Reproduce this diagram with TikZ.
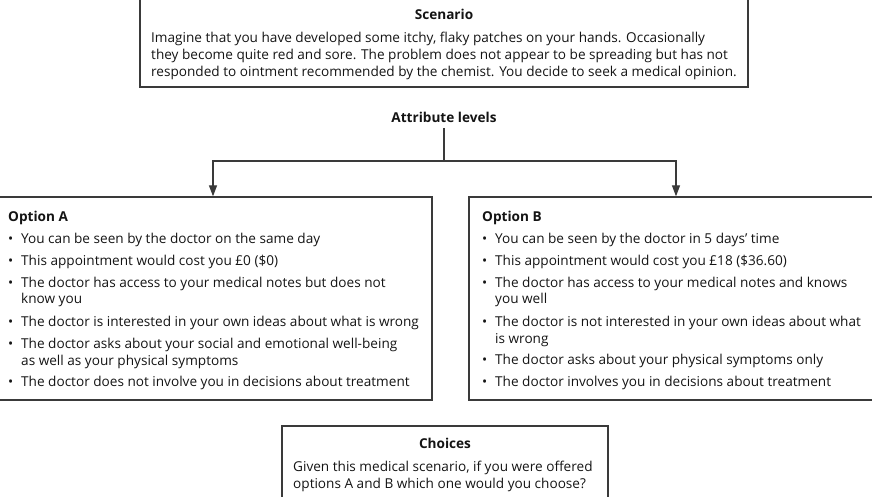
\documentclass[tikz,border=0pt]{standalone}
\usepackage{fontspec}
\setmainfont{Open Sans}
\usetikzlibrary{arrows.meta}
\definecolor{linecol}{HTML}{3A3A3A}
\definecolor{txt}{HTML}{141414}
\newcommand\fsz{\fontsize{13.6}{16}\selectfont}
\begin{document}
\begin{tikzpicture}[x=1pt,y=-1pt,
  box/.style={draw=linecol, line width=1.3pt, rectangle, inner sep=0pt},
  ttl/.style={font=\bfseries\fsz, text=txt, inner sep=0pt, anchor=base},
  ttlw/.style={font=\bfseries\fsz, text=txt, inner sep=0pt, anchor=base west},
  body/.style={font=\fsz, text=txt, inner sep=0pt, anchor=base west},
  conn/.style={draw=linecol, line width=1.2pt},
  arr/.style={conn, -{Triangle[length=11pt,width=8pt]}}]
\useasboundingbox (0,0) rectangle (872,497);
\clip (0,0) rectangle (872,497);
% boxes
\node[box, minimum width=608pt, minimum height=107pt] (scen) at (444,33.5) {};
\node[box, minimum width=438pt, minimum height=203pt] (optA) at (213,298.5) {};
\node[box, minimum width=414pt, minimum height=203pt] (optB) at (676,298.5) {};
\node[box, minimum width=326pt, minimum height=94pt] (choice) at (445,473) {};
% scenario
\node[ttl] (scenT) at (444,20) {Scenario};
\node[body] (s1) at (151,42.5) {Imagine that you have developed some itchy, flaky patches on your hands. Occasionally};
\node[body] (s2) at (151,59.5) {they become quite red and sore. The problem does not appear to be spreading but has not};
\node[body] (s3) at (151,76.5) {responded to ointment recommended by the chemist. You decide to seek a medical opinion.};
% attribute levels
\node[ttl] (attr) at (444,122.5) {Attribute levels};
\coordinate (split) at (444,161);
\draw[conn] ([yshift=-5pt]attr.south) -- (split);
\draw[arr] (split) -| (optA.north);
\draw[arr] (split) -| (optB.north);
% option A
\node[ttlw] (aT) at (8,221) {Option A};
\node[body] (a1b) at (8,243.5) {\textbullet};
\node[body] (a1) at (21,243.5) {You can be seen by the doctor on the same day};
\node[body] (a2b) at (8,265.5) {\textbullet};
\node[body] (a2) at (21,265.5) {This appointment would cost you £0 (\$0)};
\node[body] (a3b) at (8,287.5) {\textbullet};
\node[body] (a3) at (21,287.5) {The doctor has access to your medical notes but does not};
\node[body] (a3c) at (21,303.5) {know you};
\node[body] (a4b) at (8,326.5) {\textbullet};
\node[body] (a4) at (21,326.5) {The doctor is interested in your own ideas about what is wrong};
\node[body] (a5b) at (8,348.5) {\textbullet};
\node[body] (a5) at (21,348.5) {The doctor asks about your social and emotional well-being};
\node[body] (a5c) at (21,365) {as well as your physical symptoms};
\node[body] (a6b) at (8,386.5) {\textbullet};
\node[body] (a6) at (21,386.5) {The doctor does not involve you in decisions about treatment};
% option B
\node[ttlw] (bT) at (482,221) {Option B};
\node[body] (b1b) at (482,243.5) {\textbullet};
\node[body] (b1) at (495,243.5) {You can be seen by the doctor in 5 days’ time};
\node[body] (b2b) at (482,265.5) {\textbullet};
\node[body] (b2) at (495,265.5) {This appointment would cost you £18 (\$36.60)};
\node[body] (b3b) at (482,287.5) {\textbullet};
\node[body] (b3) at (495,287.5) {The doctor has access to your medical notes and knows};
\node[body] (b3c) at (495,303.5) {you well};
\node[body] (b4b) at (482,326.5) {\textbullet};
\node[body] (b4) at (495,326.5) {The doctor is not interested in your own ideas about what};
\node[body] (b4c) at (495,343) {is wrong};
\node[body] (b5b) at (482,364.5) {\textbullet};
\node[body] (b5) at (495,364.5) {The doctor asks about your physical symptoms only};
\node[body] (b6b) at (482,386.5) {\textbullet};
\node[body] (b6) at (495,386.5) {The doctor involves you in decisions about treatment};
% choices
\node[ttl] (chT) at (445,448) {Choices};
\node[body] (c1) at (293,471.5) {Given this medical scenario, if you were offered};
\node[body] (c2) at (293,488.5) {options A and B which one would you choose?};
\end{tikzpicture}
\end{document}
